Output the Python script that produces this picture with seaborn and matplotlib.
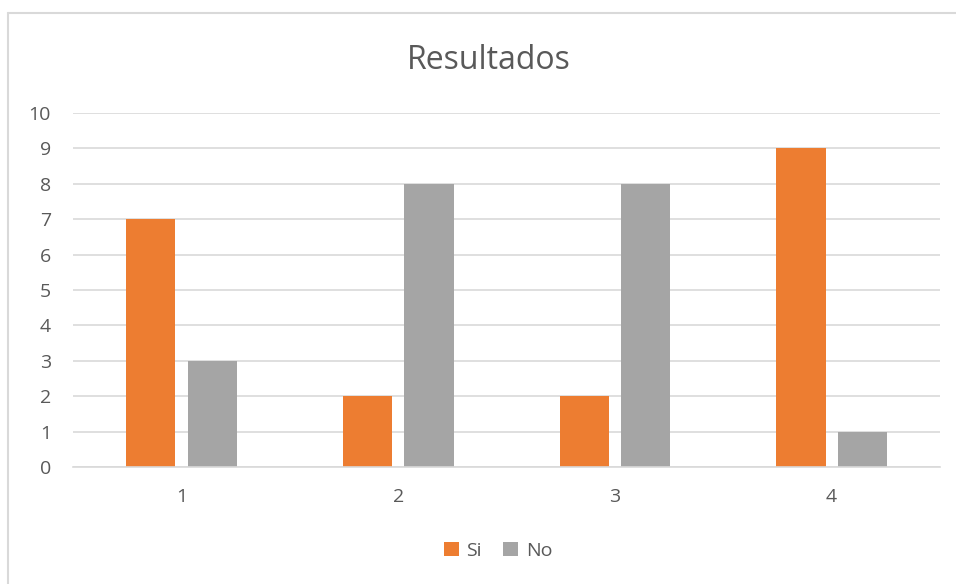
import matplotlib.pyplot as plt
import seaborn as sns
import pandas as pd
from matplotlib.patches import Patch
from matplotlib.lines import Line2D

# Data
categories = ['1', '2', '3', '4']
si_values = [7, 2, 2, 9]
no_values = [3, 8, 8, 1]
series_names = ['Si', 'No']
y_ticks = list(range(0, 11))

df = pd.DataFrame({
    'categoria': categories * 2,
    'serie': [series_names[0]] * len(categories) + [series_names[1]] * len(categories),
    'valor': si_values + no_values,
})

sns.set_style('white')
plt.rcParams['font.family'] = ['Open Sans', 'DejaVu Sans']

text_color = '#595959'
grid_color = '#D9D9D9'
palette = {'Si': '#ED7D31', 'No': '#A5A5A5'}

fig = plt.figure(figsize=(9.56, 5.84), dpi=100, facecolor='white')
ax = fig.add_axes([0.0764, 0.2003, 0.9069, 0.6062])

sns.barplot(data=df, x='categoria', y='valor', hue='serie', palette=palette,
            width=0.5675, gap=0.2, saturation=1, linewidth=0, legend=False, ax=ax)

ax.set_ylim(0, 10)
ax.set_xlim(-0.5, 3.5)
ax.set_yticks(y_ticks)
ax.set_axisbelow(True)
ax.yaxis.grid(True, color=grid_color, linewidth=1.2)
ax.tick_params(axis='both', length=0, labelsize=14, colors=text_color)
ax.tick_params(axis='x', pad=15)
ax.tick_params(axis='y', pad=16)
for side in ['top', 'right', 'left']:
    ax.spines[side].set_visible(False)
ax.spines['bottom'].set_color(grid_color)
ax.spines['bottom'].set_linewidth(1.2)
ax.set_xlabel('')
ax.set_ylabel('')

fig.text(0.5115, 0.897, 'Resultados', ha='center', va='center', fontsize=23, color=text_color)

handles = [Patch(facecolor=palette[s], edgecolor='none') for s in series_names]
fig.legend(handles, series_names, loc='center', bbox_to_anchor=(0.521, 0.057), ncol=2,
           frameon=False, fontsize=14, labelcolor=text_color, handlelength=0.75,
           handleheight=0.75, handletextpad=0.4, columnspacing=1.1)

# chart border
fig.add_artist(Line2D([8 / 956, 8 / 956], [0, 1 - 13 / 584], transform=fig.transFigure,
                      color=grid_color, linewidth=1.5))
fig.add_artist(Line2D([8 / 956, 1], [1 - 13 / 584, 1 - 13 / 584], transform=fig.transFigure,
                      color=grid_color, linewidth=1.5))

plt.savefig('out.png', dpi=100, facecolor='white')
plt.close()
